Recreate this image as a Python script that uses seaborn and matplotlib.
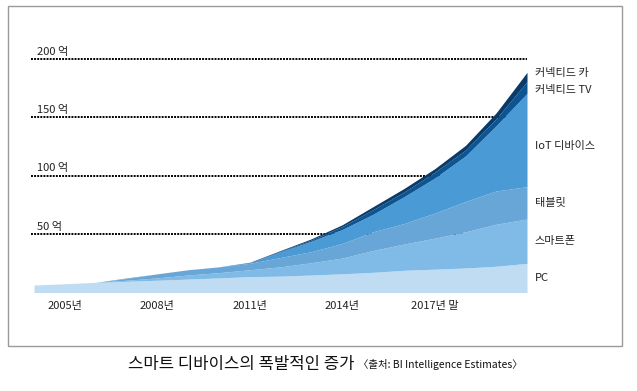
import matplotlib
matplotlib.use('Agg')
import matplotlib.pyplot as plt
import seaborn as sns
import numpy as np
from matplotlib.patches import Rectangle

# data (unit: 억 devices)
years = list(range(2004, 2021))
pc = [6.4, 7.5, 8.7, 9.6, 10.5, 11.5, 12.5, 13.6, 14, 15, 16, 17.3, 19, 20, 21, 22.5, 25]
smartphone = [0, 0, 0, 0.9, 2, 3.5, 4.5, 5.9, 8, 10.5, 13.5, 18.7, 22.5, 26.5, 31, 36, 38]
tablet = [0, 0, 0, 1.5, 3.5, 4.5, 5, 5.5, 8, 9.5, 12.5, 16, 17.5, 21.5, 26, 28.5, 27.7]
iot = [0, 0, 0, 0.5, 0, 0, 0, 0.5, 5, 9, 12, 15, 23, 30, 39, 56, 80]
conn_tv = [0, 0, 0, 0, 0, 0, 0, 0.2, 0.5, 1, 2.5, 4, 4, 5, 5, 6, 10]
conn_car = [0, 0, 0, 0, 0, 0, 0, 0.2, 0.5, 1, 1.5, 2.5, 3, 3, 4, 5, 8]

series_names = ['PC', '스마트폰', '태블릿', 'IoT 디바이스', '커넥티드 TV', '커넥티드 카']
tick_years = [2005, 2008, 2011, 2014, 2017]
tick_labels = ['2005년', '2008년', '2011년', '2014년', '2017년 말']
grid_values = [50, 100, 150, 200]
title_main = '스마트 디바이스의 폭발적인 증가'
title_src = '〈출처: BI Intelligence Estimates〉'

colors = ['#bfdcf3', '#80bae6', '#69a6d8', '#4a9ad5', '#0d5592', '#0a3b68']

sns.set_style('white')
plt.rcParams['font.family'] = ['Noto Sans CJK KR', 'DejaVu Sans']

W, H = 637, 391
fig = plt.figure(figsize=(W / 100, H / 100), dpi=100)
ax = fig.add_axes([34 / W, 1 - 292.5 / H, (527 - 34) / W, (292.5 - 40) / H])

# dotted reference lines, hidden behind the areas
for v in grid_values:
    ax.axhline(v, xmin=-0.006, xmax=1.0, color='black', lw=1.4,
               linestyle=(0, (1.0, 0.6)), zorder=1, clip_on=False)
    ax.text(2004.1, v + 2, f'{v} 억', fontsize=8, color='#222222',
            ha='left', va='bottom', zorder=1)

ax.stackplot(years, pc, smartphone, tablet, iot, conn_tv, conn_car,
             colors=colors, linewidth=0, zorder=2)

ax.set_xlim(years[0], years[-1])
ax.set_ylim(0, 216.4)
ax.set_xticks(tick_years)
ax.set_xticklabels(tick_labels, fontsize=8, color='#222222')
ax.tick_params(axis='x', length=0, pad=6)
ax.set_yticks([])
sns.despine(ax=ax, left=True, bottom=True)

# right-hand labels
stack = np.cumsum(np.array([pc, smartphone, tablet, iot, conn_tv, conn_car])[:, -1])
lows = np.concatenate([[0], stack[:-1]])
label_y = list((lows + stack) / 2)
label_y[5] = stack[5] - 1
label_y[4] = stack[5] - 15
label_y[3] = label_y[3] - 5
for name, y in zip(series_names, label_y):
    ax.text(years[-1] + 0.25, y, name, fontsize=8, color='#222222',
            ha='left', va='center', clip_on=False)

# frame around the chart
fig.patches.append(Rectangle((8 / W, 1 - 346 / H), (622 - 8) / W, (346 - 6) / H,
                             transform=fig.transFigure, fill=False,
                             edgecolor='#9a9a9a', lw=1))

fig.text(128 / W, 1 - 365 / H, title_main, fontsize=12, color='#111111',
         ha='left', va='center')
fig.text(358 / W, 1 - 365 / H, title_src, fontsize=7.5, color='#111111',
         ha='left', va='center')

fig.savefig('out.png', dpi=100)
